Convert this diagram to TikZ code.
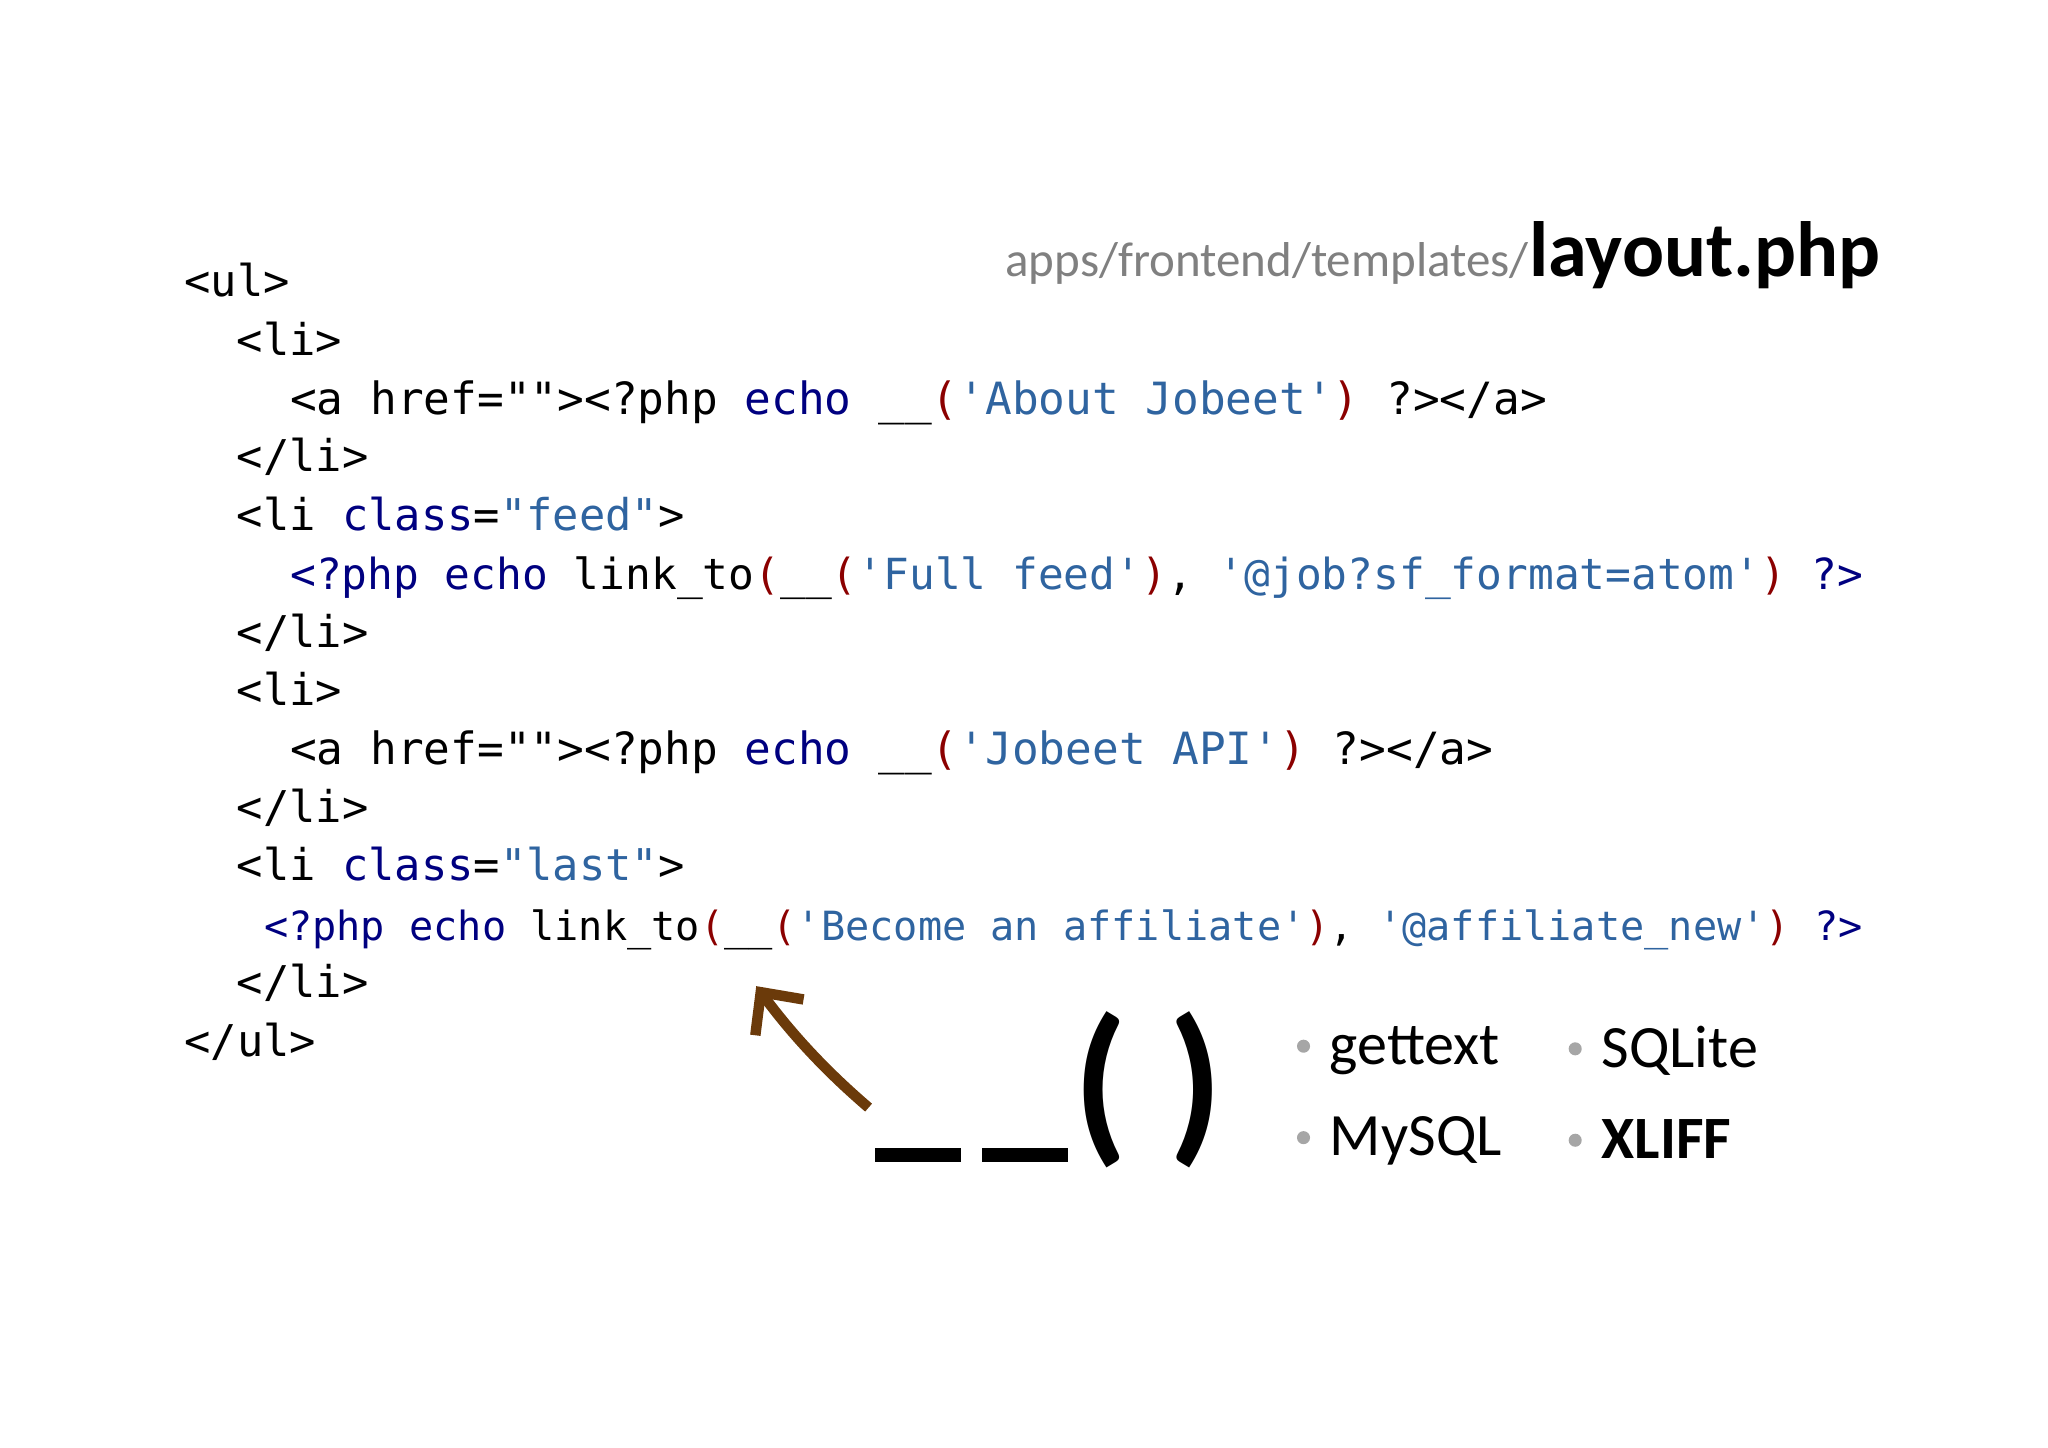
\documentclass[tikz,border=0pt]{standalone}
\usepackage{fontspec}
\setmonofont{DejaVu Sans Mono}
\newfontfamily\carl{Carlito}
\usetikzlibrary{arrows.meta}
\definecolor{kw}{HTML}{000080}
\definecolor{st}{HTML}{2F64A0}
\definecolor{pr}{HTML}{8B0000}
\definecolor{brn}{HTML}{6B3A0A}
\newcommand{\K}[1]{\textcolor{kw}{#1}}
\newcommand{\Ss}[1]{\textcolor{st}{#1}}
\newcommand{\Pp}[1]{\textcolor{pr}{#1}}
\begin{document}
\begin{tikzpicture}[x=1pt,y=-1pt,
  code/.style={anchor=base west,inner sep=0pt,font=\fontsize{33.5}{36}\ttfamily},
  codes/.style={anchor=base west,inner sep=0pt,font=\fontsize{#1}{36}\ttfamily},
  bul/.style={anchor=base west,inner sep=0pt,font=\fontsize{46}{50}\carl},
  dot/.style={circle,fill=gray!70,inner sep=0pt,minimum size=10pt}]
\useasboundingbox (0,0) rectangle (1568,1108);
\node[code] (l1) at (141,227) {<ul>};
\node[code] (l2) at (181,272) {<li>};
\node[codes=34] (l3) at (222,317) {<a href=""><?php \K{echo} \_\_\Pp{(}\Ss{'About Jobeet'}\Pp{)} ?></a>};
\node[code] (l4) at (181,361) {</li>};
\node[code] (l5) at (181,406) {<li \K{class}=\Ss{"feed"}>};
\node[codes=32.8] (l6) at (222,451) {\K{<?php echo} link\_to\Pp{(}\_\_\Pp{(}\Ss{'Full feed'}\Pp{)}, \Ss{'@job?sf\_format=atom'}\Pp{)} \K{?>}};
\node[code] (l7) at (181,496) {</li>};
\node[code] (l8) at (181,540) {<li>};
\node[codes=34] (l9) at (222,585) {<a href=""><?php \K{echo} \_\_\Pp{(}\Ss{'Jobeet API'}\Pp{)} ?></a>};
\node[code] (l10) at (181,630) {</li>};
\node[code] (l11) at (181,674) {<li \K{class}=\Ss{"last"}>};
\node[codes=30.8] (l12) at (202,720) {\K{<?php echo} link\_to\Pp{(}\_\_\Pp{(}\Ss{'Become an affiliate'}\Pp{)}, \Ss{'@affiliate\_new'}\Pp{)} \K{?>}};
\node[code] (l13) at (181,764) {</li>};
\node[code] (l14) at (141,809) {</ul>};
\node[anchor=base east,inner sep=0pt,font=\fontsize{60}{64}\carl\bfseries] (lay) at (1440,212) {layout.php};
\node[anchor=base east,inner sep=0pt,font=\fontsize{37.5}{40}\carl,text=gray] (path) at (lay.base west) {apps/frontend/templates/};
\fill (670,879) rectangle (736,890);
\fill (752,879) rectangle (818,890);
\node[anchor=base west,inner sep=0pt,font=\fontsize{134}{136}\carl\bfseries] (fn) at (822,874) {( )};
\coordinate (as) at (665,848);
\coordinate (ae) at (579,755);
\draw[brn,line width=8pt,-{Straight Barb[length=24pt,width=46pt,line width=8pt]}] (as) .. controls (630,818) and (605,790) .. (ae);
\node[dot] (d1) at (998,801) {};
\node[bul] (g) at (1018,815) {gettext};
\node[dot] (d2) at (1206,803) {};
\node[bul] (s) at (1226,817) {SQLite};
\node[dot] (d3) at (998,871) {};
\node[bul] (m) at (1018,885) {MySQL};
\node[dot] (d4) at (1206,873) {};
\node[bul,font=\fontsize{46}{50}\carl\bfseries] (x) at (1226,887) {XLIFF};
\end{tikzpicture}
\end{document}
